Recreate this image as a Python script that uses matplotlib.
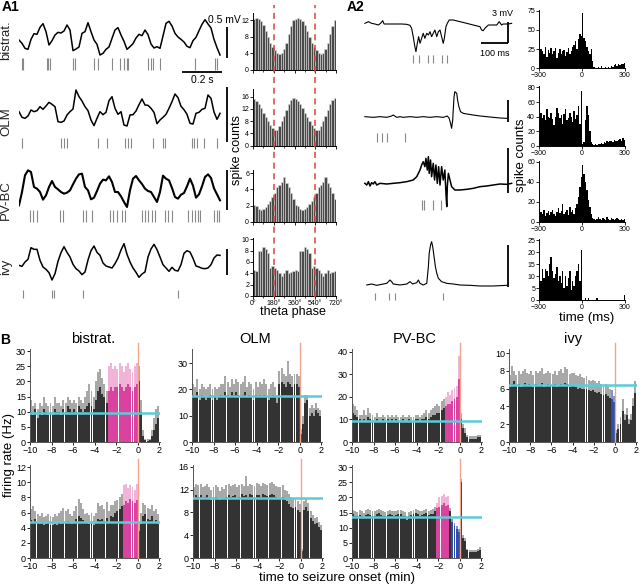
import numpy as np
import matplotlib
matplotlib.use("Agg")
import matplotlib.pyplot as plt

plt.rcParams['font.family'] = ['Liberation Sans', 'DejaVu Sans']

# ---------------- DATA ----------------
# A1 membrane traces (sampled every 15 ms), relative units
a1_step_ms = 15
tr_bistrat = [-5,-15,-30,-33,-3,14,12,33,44,20,-20,-7,10,18,16,22,40,25,-37,-32,-26,15,20,47,20,-5,-18,-50,-45,-33,-26,0,25,32,10,-9,-33,-25,-16,1,12,8,25,11,-17,-29,-25,-30,7,45,51,37,15,4,-3,-11,-24,-28,-7,3,23,42,56,43,31,-3,-28,-50]
tr_olm = [5,-12,-15,-8,10,5,8,20,12,22,33,27,20,-25,-27,-23,-5,5,13,70,50,37,20,8,-20,-37,-15,5,-4,3,38,50,15,-3,5,-35,-38,-5,-4,7,26,43,25,24,15,3,-31,-20,-12,-3,15,35,58,47,21,11,-3,-30,-32,0,3,12,15,55,45,4,-18,0]
tr_pvbc = [-45,-5,45,60,55,10,5,-5,-28,-15,10,28,10,3,-5,-10,-7,0,18,35,48,50,10,0,-27,-22,-2,20,32,30,42,25,-5,-5,-18,-35,-50,0,35,43,30,19,5,-2,-5,-20,-35,-5,44,35,30,7,-20,-25,-13,-8,12,35,14,-22,-12,12,40,48,37,6,-12,-30]
tr_ivy = [0,-3,10,18,53,48,48,15,-5,-12,-22,-44,-25,12,38,56,39,25,3,-10,-17,-28,-20,16,44,58,39,30,7,-2,-5,-8,5,22,46,65,33,10,-8,-21,-36,-26,-20,25,49,63,47,25,2,-8,-18,-6,-15,-17,2,36,44,40,21,-2,-5,-9,-10,-8,2,22,31,30]

sp_bistrat = [13,18,138,147,155,268,280,375,397,463,505,525,538,547,647,658,672,705,880,980,988]
sp_olm = [17,210,227,238,393,438,530,543,560,672,722,730,863,877,888,927,988]
sp_pvbc = [55,72,88,205,222,322,333,363,455,472,488,517,530,613,630,647,663,680,730,747,763,847,863,880,893,905,977,988,1000]
sp_ivy = [22,163,177,322,797]

# A1 theta-phase histograms (one cycle, 20 deg bins; plotted over two cycles)
ph_bistrat = [12.4,12.7,12.4,11.8,10.8,9.4,8.0,6.6,5.5,4.8,4.2,3.9,4.2,5.0,6.6,8.6,10.6,12.0]
ph_olm = [15.3,14.5,13.5,12.2,10.8,9.4,8.0,6.8,5.8,5.0,5.2,6.4,8.0,9.8,11.8,13.6,15.0,15.6]
ph_pvbc = [2.1,2.0,1.6,1.5,1.6,1.8,2.2,2.6,3.0,3.6,4.3,4.6,4.9,5.5,4.8,4.3,3.5,2.8]
ph_ivy = [4.5,4.4,8.0,8.0,8.6,8.2,7.5,5.0,5.2,5.0,4.5,4.0,3.6,4.0,4.5,4.0,4.2,4.4]

# A2 traces (time ms, value)
a2_t1 = [18,31,43,55,68,76,84,89,99,117,136,154,173,185,191,197,203,207,212,217,222,228,234,240,247,253,259,265,271,277,284,290,296,302,308,312,318,323,330,345,370,395,419,444,450,456,462,475,493,506,515,524,530,549,561]
a2_v1 = [0,5,0,-2,-5,0,8,-2,-2,-2,-2,-2,-3,-6,-15,-40,-70,-85,-60,-40,-60,-45,-30,-45,-30,-35,-25,-40,-30,-20,-40,-25,-20,-40,-60,-45,-10,0,10,10,5,0,-5,-10,-20,-22,-15,-5,-5,-5,5,-5,-2,-2,0]
a2_t2 = [18,49,74,99,117,123,136,148,160,185,210,234,259,284,308,323,330,335,339,343,345,348,351,358,361,366,372,382,395,419,444,469,493,518,543]
a2_v2 = [0,-2,0,-2,2,5,-2,0,-2,0,-2,0,-2,0,-2,2,-5,-20,-35,-10,20,60,75,70,50,30,15,10,8,5,2,0,-2,-4,-5]
a2_t3 = [18,25,31,37,43,49,55,62,74,99,123,148,173,197,210,216,222,228,234,240,244,249,253,256,261,265,271,276,281,286,291,296,302,308,314,318,321,323,327,333,339,351,370,395,419,444,469,493,518,543,561]
a2_v3 = [0,-5,5,-8,2,-2,5,-5,0,-2,0,2,5,10,20,30,40,55,65,50,75,40,80,30,70,20,60,10,55,0,50,-5,50,10,40,-30,-70,-10,30,10,-10,-20,-20,-18,-15,-10,-8,-5,-2,-3,0]
a2_t4 = [25,43,62,80,99,111,117,123,148,173,185,195,210,216,222,234,247,253,256,261,265,269,274,279,284,290,302,321,345,370,407,444,493,543]
a2_v4 = [0,3,-1,2,5,15,10,3,0,3,10,3,7,15,5,0,5,55,95,120,130,115,85,55,35,20,10,5,3,0,-1,-3,-3,-1]
a2_sp1 = [197,219,253,271,302,323]
a2_sp2 = [62,80,101,166]
a2_sp3 = [228,237,271,298]
a2_sp4 = [55,109,129,306]

# A2 spike-count histograms, 10 ms bins from -300 to 300
h_bistrat = [20,25,22,18,28,15,24,20,26,18,22,27,14,20,25,18,22,24,16,21,26,19,23,28,30,35,25,38,45,42,
             72,40,35,28,22,18,25,10,2,1,1,2,1,3,1,0,2,1,2,1,3,2,4,5,3,5,4,6,5,7]
h_olm = [30,45,38,42,35,50,40,38,45,36,28,40,52,45,38,42,30,44,50,35,38,45,40,32,48,36,42,55,30,75,
         2,5,35,55,42,20,5,2,1,2,1,3,2,4,3,5,4,6,5,7,6,5,8,7,6,8,9,7,10,8]
h_pvbc = [5,10,8,12,6,9,11,7,10,12,8,6,10,14,9,11,18,8,10,12,7,15,10,12,8,14,18,25,35,45,
          57,48,40,32,22,15,8,4,3,2,3,5,3,2,4,3,2,5,3,2,4,3,2,3,4,3,2,3,2,3]
h_ivy = [10,8,13,9,13,12,10,15,18,12,9,11,14,8,10,7,12,5,10,6,9,12,4,8,6,10,12,15,8,21,
         0,0,1,0,1,0,0,0,0,0,1,0,0,0,0,0,0,0,0,0,0,0,0,0,0,0,0,0,0,2]

# B: firing rate, 0.2-min bins from -10 to 2 min (mean and mean+SEM)
b_bis1_mean = [10,9,11,8,10,9,11,10,9,10, 9,11,10,10,9,11,10,12,11,10, 11,10,12,11,10,11,12,13,12,11,
               14,17,18,16,15,13,17,18,17,18, 18,19,18,17,18,19,18,17,18,19, 20,10,2,0.5,0.3,0.5,2,4,6,8]
b_bis1_up = [14,12,13,11,13,12,15,13,12,13, 12,15,13,13,12,14,13,15,14,13, 14,13,15,14,13,15,17,19,17,15,
             20,23,24,21,19,17,25,26,24,25, 24,26,25,23,25,26,24,23,25,26, 25,14,4,1,1,1,4,8,11,12]
b_olm1_mean = [18,17,19,16,18,17,16,17,18,16, 17,16,17,18,17,19,18,17,19,18, 19,18,17,18,19,17,18,17,16,18,
               17,18,17,18,17,16,17,18,17,15, 22,23,22,21,23,22,21,22,22,21, 3,7,15,16,10,11,10,12,11,10]
b_olm1_up = [22,21,24,20,22,21,20,21,22,20, 21,20,21,22,22,25,23,21,24,22, 24,23,22,23,25,21,23,22,20,23,
             21,23,22,24,22,20,22,23,21,18, 27,28,26,25,31,26,25,26,26,25, 5,10,18,18,13,14,13,15,13,12]
b_pv1_mean = [13,12,11,10,9,10,9,11,10,9, 9,10,9,9,10,9,10,9,10,9, 10,9,9,10,9,9,10,9,9,10,
              10,9,10,10,11,10,11,12,12,13, 13,14,15,16,17,17,18,19,20,28, 10,6,4,2,1.5,1.5,1.5,1.5,2,2]
b_pv1_up = [17,16,14,12,12,14,12,15,13,12, 11,13,11,11,12,11,12,11,12,11, 12,11,11,12,11,11,12,11,11,12,
            12,11,12,13,14,13,14,15,16,17, 16,18,19,20,22,21,23,24,25,38, 13,8,6,3,2.5,2.5,2.5,2.5,3,3]
b_ivy1_mean = [6.2,6.5,6.8,6.3,6.5,6.2,6.4,6.6,6.3,6.5, 6.4,6.2,6.5,6.3,6.4,6.6,6.2,6.3,6.5,6.4,
               6.3,6.5,6.2,6.4,6.5,6.3,6.6,6.5,6.2,6.4, 6.3,6.2,6.0,6.1,6.0,5.9,6.0,5.8,5.7,5.8,
               5.6,5.5,5.6,5.4,5.3,5.4,5.2,5.0,4.8,4.5, 1.0,1.5,2.0,3.5,2.5,3.0,2.0,2.5,4.0,5.5]
b_ivy1_up = [7.5,8.5,8,7.5,8,7.6,8,8.2,7.8,7.6, 8,7.5,8,7.8,8,8.3,7.6,7.8,8,7.8,
             7.6,8,7.5,8,8.2,7.8,8.4,8.2,7.6,7.8, 7.8,7.5,7.4,7.6,7.3,7.2,7.4,7,6.8,7,
             6.8,6.6,6.8,6.5,6.4,6.5,6.3,6.0,5.8,5.2, 1.3,2,2.8,4.8,3.2,3.8,2.6,3.2,5,6.8]
b_bis2_mean = [5.0,4.8,5.2,4.6,4.5,4.7,4.3,4.5,4.6,4.4, 4.3,4.5,4.4,4.6,4.5,4.7,4.8,4.9,4.6,4.5,
               4.8,5.2,5.5,5.3,5.0,4.6,4.8,4.5,4.6,4.4, 4.8,5.2,5.0,5.1,4.9,5.3,4.8,5.6,5.4,6.0,
               6.2,6.5,6.8,7.0,7.5,7.3,7.8,7.5,7.2,7.6, 3.5,4.5,5.5,5.8,5.2,5.0,5.5,4.8,5.0,4.5]
b_bis2_up = [6.5,6.8,6.2,5.8,5.5,6.0,5.4,5.6,5.8,5.5, 5.4,5.8,5.6,6.0,6.2,6.6,6.2,6.4,5.8,5.6,
             6.2,6.8,7.8,7.2,6.4,5.8,6.0,5.7,6.0,5.6, 6.0,7.2,6.8,7.0,6.4,7.4,6.2,7.0,7.0,7.5,
             7.6,8.0,8.4,9.6,9.8,9.2,9.6,9.4,9.0,9.8, 4.5,6.0,7.2,7.0,6.6,6.4,7.0,6.2,6.4,5.8]
b_olm2_mean = [10.5,11,10.8,11,10.6,10.8,11,10.5,10.2,10.6, 10.8,10.5,10.2,10.6,10.4,10.8,11,10.7,10.9,11,
               10.6,10.8,11.2,10.9,11,10.8,11.2,11,10.8,11.1, 11,10.8,11.2,11,10.9,11.1,11.2,11,10.8,10.6,
               10.5,10.8,10.2,10.0,9.5,9.0,8.8,9.0,8.5,8.0, 1.2,8.5,9.0,8.2,7.0,6.5,6.0,6.2,5.5,5.0]
b_olm2_up = [12.5,13,12.8,13,12.4,12.6,13,12.4,12,12.5, 12.8,12.4,11.8,12.4,12.2,12.8,13,12.6,12.8,13,
             12.4,12.8,13,12.6,14.5,12.6,13,12.8,12.6,13.2, 13,12.6,13.2,13,12.8,13.2,13.4,13,12.6,12.4,
             12.4,12.8,12,11.8,11.2,10.8,10.4,10.6,10,9.5, 1.5,10.0,10.5,9.6,8.2,7.6,7.0,7.2,6.4,5.8]
b_pv2_mean = [14.5,14,13.8,14.2,14,13.5,14.2,14.6,14.2,14, 13.8,14.6,14.8,14.2,14,13.8,14.2,14.6,14.2,14,
              14.2,14.6,14.4,14,13.8,12.5,13.8,14.2,14.6,14.8, 14.4,14,14.2,14.6,14.8,14.2,14.5,14.6,15.5,16.5,
              17,17.5,18,17.2,17.5,15.5,12,10.5,9.5,8.5, 25,6.5,5.5,2.5,2,2,2,2,2.2,2.5]
b_pv2_up = [16,15.5,15.2,16,15.6,15,15.8,16.2,15.8,15.5, 15.4,16,16.2,15.8,15.5,15.2,15.6,16,15.6,15.4,
            15.6,16,15.8,15.4,15.2,14,15.2,15.6,16,16.2, 15.8,15.4,15.6,16,16.2,15.6,16,16.2,17,18,
            20,20.5,21,20,20.5,16.5,13,11.5,10.5,9.5, 26,7.5,6.5,3,2.5,2.5,2.5,2.5,3,3.5]

# baseline (cyan) levels
base = {"bis1": 9.5, "olm1": 17.5, "pv1": 9.5, "ivy1": 6.4, "bis2": 4.7, "olm2": 10.5, "pv2": 13.5}

# ---------------- FIGURE ----------------
W, H = 640, 588
fig = plt.figure(figsize=(6.4, 5.88), dpi=100)

def pax(x0, y0, x1, y1):
    return fig.add_axes([x0 / W, 1 - y1 / H, (x1 - x0) / W, (y1 - y0) / H])

def ftext(x, y, s, **kw):
    fig.text(x / W, 1 - y / H, s, **kw)

DARK = '#333333'
LIGHT = '#a8a8a8'
PINK = '#d9439f'
PINK_L = '#f2b3d9'
BLUE = '#2f4ea8'
BLUE_L = '#8193cf'
CYAN = '#5ccbd6'
SALMON = '#f0a58f'
TICKC = '#888888'

def style_hist(ax, fs=5):
    for s in ('top', 'right'):
        ax.spines[s].set_visible(False)
    for s in ('left', 'bottom'):
        ax.spines[s].set_linewidth(0.7)
    ax.tick_params(length=2, width=0.6, labelsize=fs, pad=0.8)

# ---- A1 traces ----
traces = [tr_bistrat, tr_olm, tr_pvbc, tr_ivy]
spikes = [sp_bistrat, sp_olm, sp_pvbc, sp_ivy]
boxes = [(8, 75), (83, 150), (160, 227), (235, 302)]
sp_range = [(-95, -59), (-104, -74), (-96, -60), (-99, -75)]
bars = [(34, -59), (79, -86), (60, -60), (48, -30)]
names = ['bistrat.', 'OLM', 'PV-BC', 'ivy']
name_y = [40, 122, 200, 267]
for i in range(4):
    ax = pax(19, boxes[i][0], 233, boxes[i][1])
    t = np.arange(len(traces[i])) * a1_step_ms
    ax.plot(t, traces[i], color='black', lw=1.1 if i != 2 else 1.5)
    ax.vlines(spikes[i], sp_range[i][0], sp_range[i][1], color=TICKC, lw=0.8)
    ax.vlines([1040], bars[i][1], bars[i][0], color='black', lw=1.3)
    if i == 0:
        ax.hlines([-101], 815, 1015, color='black', lw=1.3)
    ax.set_xlim(0, 1070)
    ax.set_ylim(-110, 91)
    ax.axis('off')
    ftext(6, name_y[i], names[i], rotation=90, ha='center', va='center', fontsize=9.5, color='#222222')

ftext(224, 20, '0.5 mV', ha='center', va='center', fontsize=7.5)
ftext(202, 80, '0.2 s', ha='center', va='center', fontsize=7.5)
ftext(2, 7, 'A1', ha='left', va='center', fontsize=10, fontweight='bold')

# ---- A1 phase histograms ----
phases = [ph_bistrat, ph_olm, ph_pvbc, ph_ivy]
hboxes = [(13, 70), (89, 145.7), (170, 221.7), (238, 296)]
hylims = [13.8, 18.5, 6.4, 10.2]
hyticks = [[0, 4, 8, 12], [0, 4, 8, 12, 16], [0, 2, 4, 6], [0, 2, 4, 6, 8, 10]]
centers = np.arange(10, 720, 20)
for i in range(4):
    ax = pax(253, hboxes[i][0], 336, hboxes[i][1])
    vals = list(phases[i]) * 2
    ax.bar(centers, vals, width=20, color='#4a4a4a', edgecolor='#d8d8d8', linewidth=0.4)
    ax.set_xlim(0, 720)
    ax.set_ylim(0, hylims[i])
    ax.set_yticks(hyticks[i])
    ax.set_xticks([0, 180, 360, 540, 720])
    ax.set_xticks([90, 270, 450, 630], minor=True)
    ax.tick_params(which='minor', length=1.5, width=0.5)
    style_hist(ax)
    if i == 3:
        ax.set_xticklabels(['0°', '180°', '360°', '540°', '720°'])
    else:
        ax.set_xticklabels([])
ov = pax(253, 5, 336, 297)
ov.set_xlim(0, 720)
ov.set_ylim(0, 1)
for xv in (180, 540):
    ov.axvline(xv, color='#d8453d', lw=1.1, ls=(0, (4, 3)))
ov.axis('off')
ftext(237, 150, 'spike counts', rotation=90, ha='center', va='center', fontsize=9)
ftext(293, 312, 'theta phase', ha='center', va='center', fontsize=9)

# ---- A2 traces ----
a2_ts = [a2_t1, a2_t2, a2_t3, a2_t4]
a2_vs = [a2_v1, a2_v2, a2_v3, a2_v4]
a2_sps = [a2_sp1, a2_sp2, a2_sp3, a2_sp4]
a2_boxes = [(3, 70), (80, 150), (145, 215), (230, 305)]
a2_ylims = [(-140, 61), (-100, 110), (-95, 115), (-60, 165)]
a2_sprange = [(-120, -95), (-75, -50), (-80, -50), (-45, -23)]
a2_bars = [(4, -59), (50, -16), (106, -29), (120, -6)]
for i in range(4):
    ax = pax(355, a2_boxes[i][0], 515, a2_boxes[i][1])
    ax.plot(a2_ts[i], a2_vs[i], color='black', lw=0.8 if i != 2 else 1.1)
    ax.vlines(a2_sps[i], a2_sprange[i][0], a2_sprange[i][1], color=TICKC, lw=0.8)
    ax.vlines([548], a2_bars[i][1], a2_bars[i][0], color='black', lw=1.3)
    if i == 0:
        ax.hlines([-59], 448, 548, color='black', lw=1.3)
    ax.set_xlim(-18.5, 573.5)
    ax.set_ylim(*a2_ylims[i])
    ax.axis('off')
ftext(503, 13, '3 mV', ha='center', va='center', fontsize=6.5)
ftext(495, 53, '100 ms', ha='center', va='center', fontsize=6.5)
ftext(347, 7, 'A2', ha='left', va='center', fontsize=10, fontweight='bold')

# ---- A2 histograms ----
a2_hists = [h_bistrat, h_olm, h_pvbc, h_ivy]
a2_hboxes = [(10, 68.3), (86, 145.7), (160.5, 221.7), (239, 300)]
a2_hylims = [76, 82, 61, 25.5]
a2_hyticks = [[0, 25, 50, 75], [0, 20, 40, 60, 80], [0, 20, 40, 60], [0, 5, 10, 15, 20, 25]]
hc = np.arange(-295, 300, 10)
for i in range(4):
    ax = pax(539, a2_hboxes[i][0], 625, a2_hboxes[i][1])
    ax.bar(hc, a2_hists[i], width=10, color='black', edgecolor='none')
    ax.set_xlim(-300, 300)
    ax.set_ylim(0, a2_hylims[i])
    ax.set_yticks(a2_hyticks[i])
    ax.set_xticks([-300, 0, 300])
    style_hist(ax)
ftext(521, 155, 'spike counts', rotation=90, ha='center', va='center', fontsize=9.5)
ftext(587, 318, 'time (ms)', ha='center', va='center', fontsize=9.5)

# ---- B panels ----
bcent = np.linspace(-9.9, 1.9, 60)

def draw_b(box, mean, upper, ymax, yticks, baseline, pink=None, blue=None):
    ax = pax(*box)
    cols, ucols = [], []
    for c in bcent:
        if pink and pink[0] < c < pink[1]:
            cols.append(PINK); ucols.append(PINK_L)
        elif blue and blue[0] < c < blue[1]:
            cols.append(BLUE); ucols.append(BLUE_L)
        else:
            cols.append(DARK); ucols.append(LIGHT)
    ax.bar(bcent, upper, width=0.18, color=ucols, edgecolor='none')
    ax.bar(bcent, mean, width=0.18, color=cols, edgecolor='none')
    ax.axvline(0, color=SALMON, lw=1.0, ymax=1.06, clip_on=False, zorder=4)
    ax.axhline(baseline, color=CYAN, lw=1.8, zorder=5)
    ax.set_xlim(-10, 2.05)
    ax.set_ylim(0, ymax)
    ax.set_xticks([-10, -8, -6, -4, -2, 0, 2])
    ax.set_yticks(yticks)
    for s in ('top', 'right'):
        ax.spines[s].set_visible(False)
    for s in ('left', 'bottom'):
        ax.spines[s].set_linewidth(0.7)
        ax.spines[s].set_color('#555555')
    ax.tick_params(length=2, width=0.6, labelsize=6.5, pad=1)
    return ax

r1 = (349, 442)
r2 = (465, 558)
draw_b((30, r1[0], 160, r1[1]), b_bis1_mean, b_bis1_up, 30.7, [0, 5, 10, 15, 20, 25, 30], base["bis1"], pink=(-2.8, 0))
draw_b((192, r1[0], 322, r1[1]), b_olm1_mean, b_olm1_up, 35.4, [0, 10, 20, 30], base["olm1"])
draw_b((352, r1[0], 482, r1[1]), b_pv1_mean, b_pv1_up, 41.3, [0, 10, 20, 30, 40], base["pv1"], pink=(-1.4, 0))
draw_b((509, r1[0], 637, r1[1]), b_ivy1_mean, b_ivy1_up, 10.45, [0, 2, 4, 6, 8, 10], base["ivy1"], blue=(-0.4, 0))
draw_b((30, r2[0], 160, r2[1]), b_bis2_mean, b_bis2_up, 12.27, [0, 2, 4, 6, 8, 10, 12], base["bis2"], pink=(-1.4, 0))
draw_b((193, r2[0], 323, r2[1]), b_olm2_mean, b_olm2_up, 16.35, [0, 4, 8, 12, 16], base["olm2"])
draw_b((352, r2[0], 482, r2[1]), b_pv2_mean, b_pv2_up, 30.7, [0, 5, 10, 15, 20, 25, 30], base["pv2"], pink=(-2.2, -1.0), blue=(-0.8, 0))

for x, s in [(93, 'bistrat.'), (255, 'OLM'), (415, 'PV-BC'), (573, 'ivy')]:
    ftext(x, 339, s, ha='center', va='center', fontsize=10.5)
ftext(5, 340, 'B', ha='center', va='center', fontsize=10, fontweight='bold')
ftext(9, 455, 'firing rate (Hz)', rotation=90, ha='center', va='center', fontsize=9.5)
ftext(337, 578, 'time to seizure onset (min)', ha='center', va='center', fontsize=9.5)

fig.savefig('out.png', dpi=100)
